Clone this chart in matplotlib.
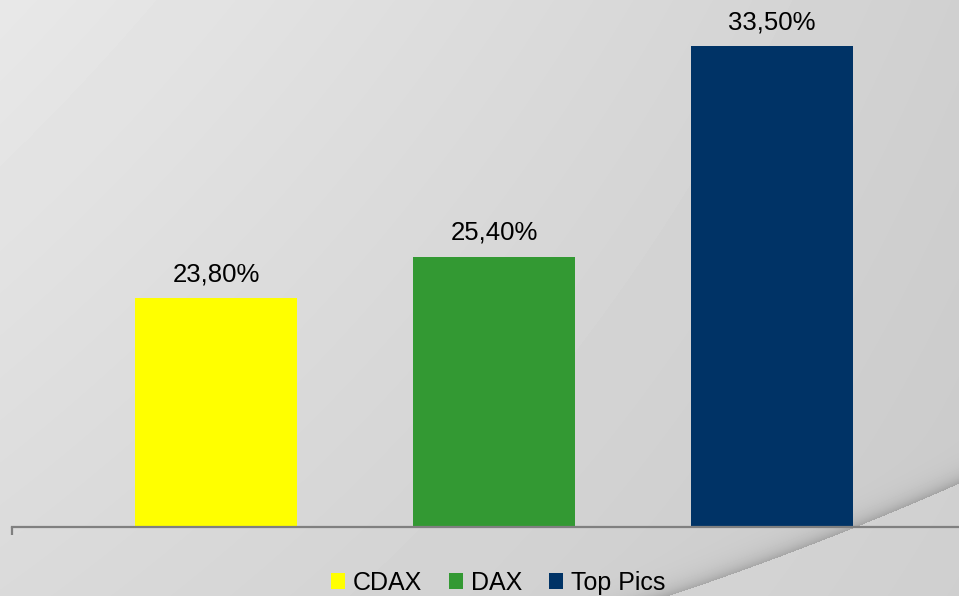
import numpy as np
import matplotlib
matplotlib.use("Agg")
import matplotlib.pyplot as plt

# ---- data ----
categories = ["CDAX", "DAX", "Top Pics"]
values = [23.80, 25.40, 33.50]
colors = ["#FFFF00", "#339933", "#003366"]
y_min, y_max = 15, 35

W, H = 959, 596
plt.rcParams['font.family'] = ['Liberation Sans', 'DejaVu Sans']
fig = plt.figure(figsize=(W / 100, H / 100), dpi=100)

# ---- background gradient with decorative swoosh ----
bg = fig.add_axes([0, 0, 1, 1], zorder=0)
yy, xx = np.mgrid[0:H, 0:W].astype(float)
u, v = xx / (W - 1), yy / (H - 1)
TL, TR, BL, BR = 232, 208, 218, 202
img = (TL * (1 - u) * (1 - v) + TR * u * (1 - v) + BL * (1 - u) * v + BR * u * v)
cx = np.array([667.0, 780.0, 959.0])
cy = np.array([596.0, 556.0, 483.0])
coef = np.polyfit(cx, cy, 2)
yc = np.polyval(coef, xx)
d = yc - yy  # positive above curve
region = xx > 600
above = region & (d >= 0)
below = region & (d < 0)
img[above] -= 40 * np.exp(-d[above] / 9.0)
img[below] += 5
img = np.clip(img, 0, 255) / 255.0
bg.imshow(img, cmap="gray", vmin=0, vmax=1, extent=[0, W, H, 0], aspect="auto",
          interpolation="bilinear")
bg.set_xlim(0, W)
bg.set_ylim(H, 0)
bg.axis("off")

# ---- main axes ----
left_px, right_px, base_px, top_px = 12, 959, 527, 7
ax = fig.add_axes([left_px / W, 1 - base_px / H, (right_px - left_px) / W,
                   (base_px - top_px) / H], zorder=1)
ax.patch.set_alpha(0)

x = np.arange(len(categories))
bars = ax.bar(x, values, width=0.58, color=colors, bottom=0, zorder=2)
ax.set_ylim(y_min, y_max)
ax.set_xlim(-(216 - 12) / 278, (959 - 216) / 278)

for s in ["top", "right", "left"]:
    ax.spines[s].set_visible(False)
ax.spines["bottom"].set_color("#808080")
ax.spines["bottom"].set_linewidth(1.6)
ax.spines["bottom"].set_zorder(3)
ax.set_yticks([])
ax.set_xticks([ax.get_xlim()[0]])
ax.set_xticklabels([""])
ax.tick_params(axis="x", length=6, width=1.6, color="#808080", direction="out")

for xi, val in zip(x, values):
    ax.annotate(f"{val:.2f}%".replace(".", ","), (xi, val), xytext=(0, 12.2),
                textcoords="offset points", ha="center", va="baseline",
                fontsize=18.5, color="black")

# ---- legend ----
fig.legend(bars, categories, loc="center", ncol=3, frameon=False,
           bbox_to_anchor=(498 / W, 1 - 583 / H), fontsize=18,
           handlelength=0.58, handleheight=0.58, handletextpad=0.32,
           columnspacing=1.05, borderpad=0, borderaxespad=0)

fig.savefig("out.png", dpi=100)
